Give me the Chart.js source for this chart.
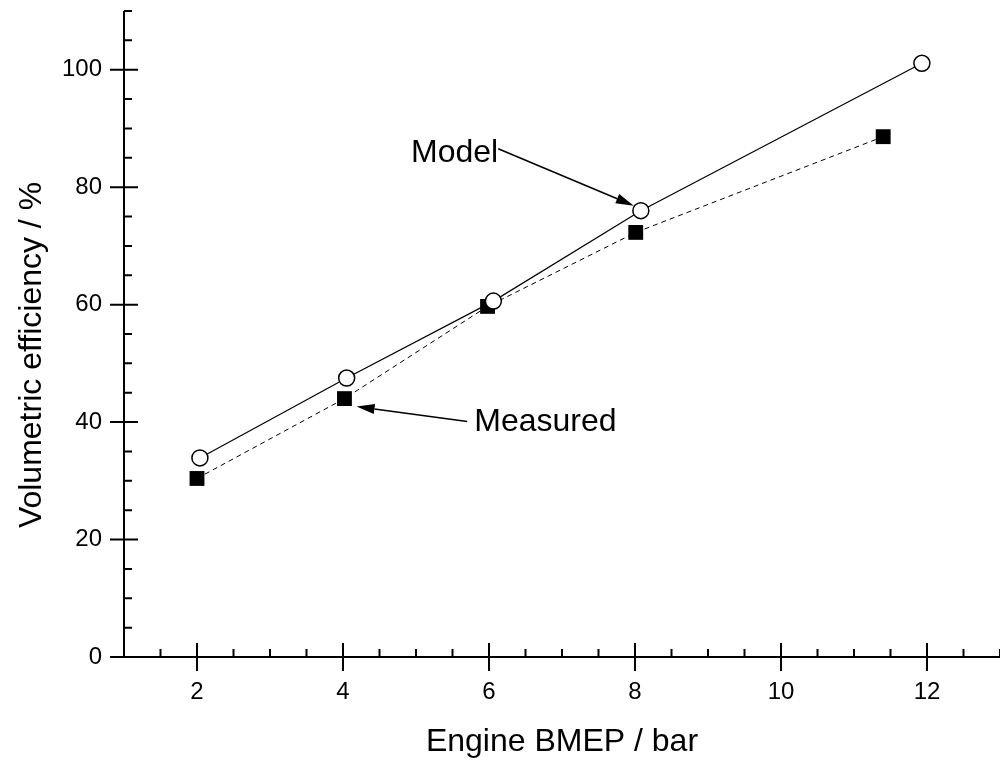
<!DOCTYPE html>
<html>
<head>
<meta charset="utf-8">
<title>Volumetric efficiency vs BMEP</title>
<script src="https://cdn.jsdelivr.net/npm/chart.js@4.4.1/dist/chart.umd.min.js"></script>
<style>
  html, body { margin: 0; padding: 0; background: #fff; }
  canvas { display: block; }
</style>
</head>
<body>
<canvas id="ve-chart" width="1000" height="761"></canvas>
<script>
// Engine BMEP (bar) and volumetric efficiency (%)
const modelBmep = [2.04, 4.05, 6.06, 8.08, 11.93];
const modelEff = [33.9, 47.5, 60.6, 76.0, 101.1];
const measuredBmep = [2.0, 4.02, 5.98, 8.01, 11.40];
const measuredEff = [30.4, 44.0, 59.7, 72.3, 88.6];

// Axis ticks
const xTicks = [2, 4, 6, 8, 10, 12];
const yTicks = [0, 20, 40, 60, 80, 100];

const FONT = "'Liberation Sans', Arial, sans-serif";
const Y_TITLE = 'Volumetric efficiency / %';

// Callout labels with arrows, given in data units
const callouts = [
  { text: 'Model', from: { x: 6.126, y: 86.55 }, to: { x: 7.984, y: 76.85 }, align: 'right', dx: 0, dy: 4 },
  { text: 'Measured', from: { x: 5.702, y: 40.09 }, to: { x: 4.186, y: 42.64 }, align: 'left', dx: 7, dy: 1 }
];

// Axis lines with major (crossing) and minor (inside) ticks, plus the y title
const axisFrame = {
  id: 'axisFrame',
  afterDraw(chart) {
    const { ctx, scales: { x, y } } = chart;
    const x0 = x.left, y0 = y.bottom;
    ctx.save();
    ctx.strokeStyle = '#000';
    ctx.lineWidth = 2;
    ctx.lineCap = 'butt';
    ctx.beginPath();
    ctx.moveTo(x0, y.top);
    ctx.lineTo(x0, y0);
    ctx.moveTo(x0, y0);
    ctx.lineTo(x.right, y0);
    // x minor ticks every 0.5
    for (let v = x.min + 0.5; v <= x.max + 1e-6; v += 0.5) {
      if (xTicks.includes(v)) continue;
      const px = x.getPixelForValue(v);
      ctx.moveTo(px, y0);
      ctx.lineTo(px, y0 - 8);
    }
    xTicks.forEach(v => {
      const px = x.getPixelForValue(v);
      ctx.moveTo(px, y0 - 14);
      ctx.lineTo(px, y0 + 14);
    });
    // y minor ticks every 5
    for (let v = y.min + 5; v <= y.max + 1e-6; v += 5) {
      if (yTicks.includes(v)) continue;
      const py = y.getPixelForValue(v);
      ctx.moveTo(x0, py);
      ctx.lineTo(x0 + 8, py);
    }
    yTicks.forEach(v => {
      const py = y.getPixelForValue(v);
      ctx.moveTo(x0 - 14, py);
      ctx.lineTo(x0 + 14, py);
    });
    ctx.stroke();

    // rotated y title, sitting a little below the axis middle
    ctx.translate(32, (y.top + y.bottom) / 2 + 21);
    ctx.rotate(-Math.PI / 2);
    ctx.font = '32px ' + FONT;
    ctx.fillStyle = '#000';
    ctx.textAlign = 'center';
    ctx.textBaseline = 'middle';
    ctx.fillText(Y_TITLE, 0, 0);
    ctx.restore();
  }
};

// Text labels pointing at the curves
const calloutPlugin = {
  id: 'callouts',
  afterDatasetsDraw(chart) {
    const { ctx, scales: { x, y } } = chart;
    ctx.save();
    ctx.font = '32px ' + FONT;
    ctx.fillStyle = '#000';
    ctx.strokeStyle = '#000';
    ctx.textBaseline = 'middle';
    callouts.forEach(c => {
      const fx = x.getPixelForValue(c.from.x), fy = y.getPixelForValue(c.from.y);
      const tx = x.getPixelForValue(c.to.x), ty = y.getPixelForValue(c.to.y);
      ctx.textAlign = c.align;
      ctx.fillText(c.text, fx + c.dx, fy + c.dy);
      const ang = Math.atan2(ty - fy, tx - fx);
      const headLen = 18, headHalf = 5;
      const bx = tx - headLen * Math.cos(ang), by = ty - headLen * Math.sin(ang);
      ctx.lineWidth = 1.5;
      ctx.beginPath();
      ctx.moveTo(fx, fy);
      ctx.lineTo(bx, by);
      ctx.stroke();
      ctx.beginPath();
      ctx.moveTo(tx, ty);
      ctx.lineTo(bx + headHalf * Math.sin(ang), by - headHalf * Math.cos(ang));
      ctx.lineTo(bx - headHalf * Math.sin(ang), by + headHalf * Math.cos(ang));
      ctx.closePath();
      ctx.fill();
    });
    ctx.restore();
  }
};

const toPoints = (xs, ys) => xs.map((v, i) => ({ x: v, y: ys[i] }));

// drop the label overhang padding so the plot fills the frame
const noPad = s => { s.paddingTop = 0; s.paddingBottom = 0; s.paddingLeft = 0; s.paddingRight = 0; };

new Chart(document.getElementById('ve-chart'), {
  type: 'scatter',
  data: {
    datasets: [
      {
        label: 'Measured',
        data: toPoints(measuredBmep, measuredEff),
        showLine: true,
        borderColor: '#000',
        borderWidth: 1,
        borderDash: [5, 4],
        pointStyle: 'rect',
        pointRadius: 10.5,
        pointBackgroundColor: '#000',
        pointBorderColor: '#000',
        pointBorderWidth: 0,
        order: 1
      },
      {
        label: 'Model',
        data: toPoints(modelBmep, modelEff),
        showLine: true,
        borderColor: '#000',
        borderWidth: 1.2,
        pointStyle: 'circle',
        pointRadius: 8,
        pointBackgroundColor: '#fff',
        pointBorderColor: '#000',
        pointBorderWidth: 1.5,
        order: 0
      }
    ]
  },
  options: {
    responsive: false,
    animation: false,
    layout: { autoPadding: false, padding: { top: 11, right: 0, bottom: 0, left: 0 } },
    plugins: {
      legend: { display: false },
      tooltip: { enabled: false }
    },
    scales: {
      x: {
        type: 'linear',
        min: 1,
        max: 13,
        grid: { display: false, drawTicks: false },
        border: { display: false },
        afterBuildTicks: s => { s.ticks = xTicks.map(v => ({ value: v })); },
        afterFit: s => { s.height = 104; noPad(s); },
        ticks: {
          color: '#000',
          padding: 21,
          maxRotation: 0,
          font: { family: FONT, size: 24 }
        },
        title: {
          display: true,
          text: 'Engine BMEP / bar',
          color: '#000',
          padding: 0,
          font: { family: FONT, size: 32 }
        }
      },
      y: {
        type: 'linear',
        min: 0,
        max: 110,
        grid: { display: false, drawTicks: false },
        border: { display: false },
        afterBuildTicks: s => { s.ticks = yTicks.map(v => ({ value: v })); },
        afterFit: s => { s.width = 124; noPad(s); },
        ticks: {
          color: '#000',
          padding: 22,
          font: { family: FONT, size: 24 }
        }
      }
    }
  },
  plugins: [axisFrame, calloutPlugin]
});
</script>
</body>
</html>
